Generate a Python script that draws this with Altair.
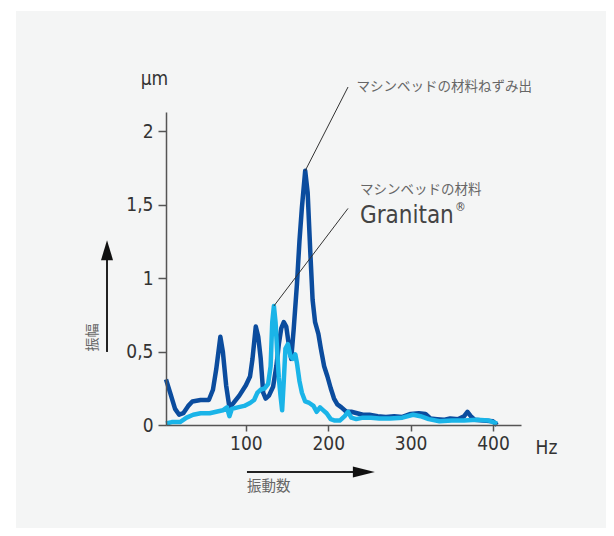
import altair as alt
import pandas as pd

# ---- data ----
dark_hz = [3, 8, 14, 19, 24, 30, 35, 45, 55, 60, 64, 69, 72, 76, 80, 85, 92, 100, 105, 108,
           112, 115, 118, 121, 124, 128, 133, 137, 140, 143, 146, 149, 152, 155, 158, 162, 165,
           168, 172, 175, 178, 181, 184, 188, 191, 195, 199, 203, 207, 211, 216, 222, 228, 235,
           242, 250, 260, 270, 280, 290, 300, 310, 318, 324, 332, 340, 348, 358, 365, 369, 373,
           378, 388, 400, 405]
dark_val = [0.31, 0.22, 0.11, 0.07, 0.08, 0.13, 0.16, 0.17, 0.17, 0.24, 0.38, 0.60, 0.50, 0.27,
            0.12, 0.15, 0.20, 0.27, 0.33, 0.45, 0.67, 0.60, 0.45, 0.22, 0.18, 0.20, 0.26, 0.40,
            0.55, 0.66, 0.70, 0.67, 0.55, 0.45, 0.65, 0.96, 1.25, 1.48, 1.73, 1.58, 1.20, 0.85,
            0.70, 0.62, 0.52, 0.40, 0.33, 0.25, 0.18, 0.14, 0.12, 0.09, 0.09, 0.08, 0.07, 0.07,
            0.06, 0.055, 0.06, 0.055, 0.075, 0.08, 0.075, 0.045, 0.04, 0.035, 0.045, 0.04, 0.06,
            0.09, 0.06, 0.035, 0.03, 0.025, 0.0]

light_hz = [3, 10, 20, 28, 36, 45, 56, 64, 72, 77, 80, 83, 90, 98, 105, 110, 114, 118, 123, 127,
            130, 132, 134, 136, 138, 140, 142, 144, 146, 148, 151, 154, 157, 160, 162, 165, 168,
            172, 177, 182, 186, 190, 194, 198, 203, 208, 214, 220, 224, 228, 234, 242, 252, 262,
            275, 290, 303, 312, 322, 335, 350, 365, 380, 395, 405]
light_val = [0.01, 0.02, 0.02, 0.05, 0.07, 0.08, 0.08, 0.09, 0.10, 0.12, 0.06, 0.11, 0.12, 0.13,
             0.15, 0.17, 0.22, 0.24, 0.25, 0.28, 0.40, 0.70, 0.81, 0.70, 0.50, 0.32, 0.20, 0.10,
             0.30, 0.52, 0.55, 0.47, 0.45, 0.48, 0.42, 0.30, 0.22, 0.16, 0.15, 0.13, 0.09, 0.12,
             0.10, 0.08, 0.04, 0.03, 0.03, 0.06, 0.09, 0.05, 0.04, 0.05, 0.05, 0.045, 0.045, 0.05,
             0.07, 0.06, 0.04, 0.025, 0.03, 0.03, 0.035, 0.03, 0.01]

x_ticks = [100, 200, 300, 400]
y_ticks = [0, 0.5, 1, 1.5, 2]

label_gusseisen = "マシンベッドの材料ねずみ出"
label_material = "マシンベッドの材料"
label_granitan = "Granitan"
label_amplitude = "振幅"
label_frequency = "振動数"

DARK = "#0b4c9e"
LIGHT = "#1ab4e8"
NUM_FONT = "Liberation Sans Narrow, DejaVu Sans Condensed, sans-serif"
JP_FONT = "Noto Sans CJK JP"

W, H = 355, 313
xs = alt.Scale(domain=[3, 434], nice=False, zero=False)
ys = alt.Scale(domain=[0, 2.13], nice=False, zero=False)

dark_df = pd.DataFrame({"hz": dark_hz, "val": dark_val})
light_df = pd.DataFrame({"hz": light_hz, "val": light_val})

x_axis = alt.Axis(values=x_ticks, tickSize=6, labelFontSize=19, labelFont=NUM_FONT,
                  labelColor="#333", domainColor="#555", tickColor="#555", domainWidth=1.5,
                  tickWidth=1.5, grid=False, labelFlush=False, labelPadding=3, zindex=1,
                  title="Hz", titleAngle=0, titleX=380, titleY=22, titleAlign="center",
                  titleBaseline="middle", titleFontSize=19, titleFontWeight="normal",
                  titleColor="#333", titleFont=NUM_FONT)
y_axis = alt.Axis(values=y_ticks, format="~g", labelExpr="replace(datum.label, '.', ',')",
                  tickSize=8, labelPadding=5, labelFontSize=19, labelFont=NUM_FONT,
                  labelColor="#333", domainColor="#555", tickColor="#555", domainWidth=1.5,
                  tickWidth=1.5, grid=False, labelFlush=False, zindex=1,
                  title="µm", titleAngle=0, titleX=-12, titleY=-34, titleAlign="center",
                  titleBaseline="middle", titleFontSize=19, titleFontWeight="normal",
                  titleColor="#333", titleFont=NUM_FONT)

bg = alt.Chart(pd.DataFrame({"a": [0]})).mark_rect(color="#f4f5f5").encode(
    x=alt.value(-150), x2=alt.value(440), y=alt.value(-101), y2=alt.value(416))

dark = alt.Chart(dark_df).mark_line(color=DARK, strokeWidth=4.5, strokeJoin="round").encode(
    x=alt.X("hz:Q", scale=xs, axis=x_axis),
    y=alt.Y("val:Q", scale=ys, axis=y_axis))
light = alt.Chart(light_df).mark_line(color=LIGHT, strokeWidth=4.5, strokeJoin="round").encode(
    x=alt.X("hz:Q", scale=xs), y=alt.Y("val:Q", scale=ys))

# annotation leader lines (data coordinates)
lead_df = pd.DataFrame({"x": [172, 134], "y": [1.73, 0.81], "x2": [224, 224], "y2": [2.30, 1.474]})
leaders = alt.Chart(lead_df).mark_rule(color="#333", strokeWidth=1).encode(
    x=alt.X("x:Q", scale=xs), y=alt.Y("y:Q", scale=ys), x2="x2:Q", y2="y2:Q")

txt_df = pd.DataFrame({"x": [234.3, 238.4], "y": [2.297, 1.599],
                       "t": [label_gusseisen, label_material]})
jp_texts = alt.Chart(txt_df).mark_text(align="left", baseline="middle", font=JP_FONT,
                                        fontSize=13.5, color="#666").encode(
    x=alt.X("x:Q", scale=xs), y=alt.Y("y:Q", scale=ys), text="t:N")

gran_df = pd.DataFrame({"x": [238.4], "y": [1.422], "t": [label_granitan]})
gran = alt.Chart(gran_df).mark_text(align="left", baseline="middle", font=NUM_FONT,
                                    fontSize=24, color="#444").encode(
    x=alt.X("x:Q", scale=xs), y=alt.Y("y:Q", scale=ys), text="t:N")
reg = alt.Chart(gran_df).mark_text(align="left", baseline="middle", font=NUM_FONT,
                                   fontSize=12, color="#444", dx=95, dy=-9).encode(
    x=alt.X("x:Q", scale=xs), y=alt.Y("y:Q", scale=ys), text=alt.value("®"))

# arrows
v_shaft = pd.DataFrame({"x": [-68.6], "y": [0.497], "y2": [1.15]})
vs = alt.Chart(v_shaft).mark_rule(color="#222", strokeWidth=2).encode(
    x=alt.X("x:Q", scale=xs), y=alt.Y("y:Q", scale=ys), y2="y2:Q")
v_head = pd.DataFrame({"x": [-68.6], "y": [1.19]})
vh = alt.Chart(v_head).mark_point(shape="M-0.6,1L0.6,1L0,-1Z", filled=True, size=400,
                                  color="#111", opacity=1).encode(
    x=alt.X("x:Q", scale=xs), y=alt.Y("y:Q", scale=ys))

h_shaft = pd.DataFrame({"x": [101.3], "x2": [232], "y": [-0.32]})
hs = alt.Chart(h_shaft).mark_rule(color="#222", strokeWidth=2).encode(
    x=alt.X("x:Q", scale=xs), x2="x2:Q", y=alt.Y("y:Q", scale=ys))
h_head = pd.DataFrame({"x": [243.2], "y": [-0.32]})
hh = alt.Chart(h_head).mark_point(shape="M-1,-0.5L1,0L-1,0.5Z", filled=True, size=484,
                                  color="#111", opacity=1).encode(
    x=alt.X("x:Q", scale=xs), y=alt.Y("y:Q", scale=ys))

amp_df = pd.DataFrame({"x": [-86.2], "y": [0.595], "t": [label_amplitude]})
amp = alt.Chart(amp_df).mark_text(angle=270, align="center", baseline="middle", font=JP_FONT,
                                  fontSize=14, color="#666").encode(
    x=alt.X("x:Q", scale=xs), y=alt.Y("y:Q", scale=ys), text="t:N")
freq_df = pd.DataFrame({"x": [101.3], "y": [-0.422], "t": [label_frequency]})
freq = alt.Chart(freq_df).mark_text(align="left", baseline="middle", font=JP_FONT,
                                    fontSize=14.5, color="#666").encode(
    x=alt.X("x:Q", scale=xs), y=alt.Y("y:Q", scale=ys), text="t:N")

chart = alt.layer(bg, dark, light, leaders, jp_texts, gran, reg, vs, vh, hs, hh, amp, freq).properties(
    width=W, height=H,
    autosize=alt.AutoSizeParams(type="none"),
    padding={"left": 158, "top": 104, "right": 85, "bottom": 103},
    background="white",
).configure_view(strokeWidth=0)

chart.save("out.html", embed_options={"renderer": "svg", "actions": False})
